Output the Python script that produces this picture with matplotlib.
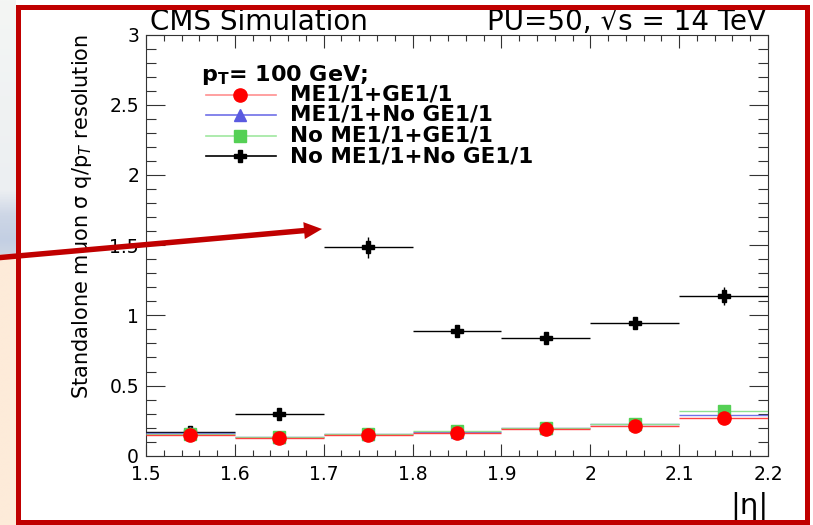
import numpy as np
import matplotlib
matplotlib.use('Agg')
import matplotlib.pyplot as plt
from matplotlib.lines import Line2D
from matplotlib.patches import Rectangle, FancyArrow
from matplotlib.transforms import Affine2D
from matplotlib.ticker import MultipleLocator

# |eta| bins (centres, half width 0.05)
eta = [1.55, 1.65, 1.75, 1.85, 1.95, 2.05, 2.15]
half_bin = 0.05

# standalone muon q/pT resolution
me11_ge11 = [0.148, 0.129, 0.146, 0.160, 0.189, 0.210, 0.267]
me11_noge11 = [0.162, 0.134, 0.155, 0.167, 0.196, 0.224, 0.290]
nome11_ge11 = [0.157, 0.136, 0.157, 0.179, 0.200, 0.229, 0.319]
nome11_noge11 = [0.172, 0.298, 1.485, 0.891, 0.837, 0.944, 1.136]
nome11_noge11_err = [0.012, 0.012, 0.075, 0.015, 0.02, 0.022, 0.065]
small_err = [0.005] * 7

labels = ['ME1/1+GE1/1', 'ME1/1+No GE1/1', 'No ME1/1+GE1/1', 'No ME1/1+No GE1/1']

W, H = 813, 525
fig = plt.figure(figsize=(W / 100, H / 100), dpi=100)
fig.patch.set_facecolor('white')
# image pixel coordinates (y down) -> figure
pix = Affine2D().scale(1 / W, -1 / H).translate(0, 1) + fig.transFigure

# faded slide background at the left edge
strip = fig.add_axes([0, 0, 15 / W, 1])
strip.axis('off')
rows = np.linspace(0, H, 200)
stops_y = [0, 190, 215, 240, 254, 256, H]
stops_c = np.array([[244, 246, 244], [236, 239, 242], [205, 214, 230], [195, 207, 227],
                    [205, 214, 228], [253, 235, 217], [253, 235, 217]]) / 255
grad = np.stack([np.interp(rows, stops_y, stops_c[:, k]) for k in range(3)], axis=-1)
strip.imshow(grad[:, None, :], aspect='auto', extent=[0, 1, 0, 1])

ax = fig.add_axes([146 / W, (H - 455.8) / H, 622 / W, 421.3 / H])
ax.set_xlim(1.5, 2.2)
ax.set_ylim(0, 3)

ax.errorbar(eta, nome11_noge11, xerr=half_bin, yerr=nome11_noge11_err, fmt='P',
            color='black', ms=9, lw=1.0, capsize=0, zorder=3)
ax.errorbar(eta, me11_noge11, xerr=half_bin, yerr=small_err, fmt='^',
            color='#5a5ae0', ecolor='#7070e8', ms=8, lw=1.0, capsize=0, zorder=4)
ax.errorbar(eta, nome11_ge11, xerr=half_bin, yerr=small_err, fmt='s',
            color='#55d055', ecolor='#8fe08f', ms=8.5, lw=1.0, capsize=0, zorder=5)
ax.errorbar(eta, me11_ge11, xerr=half_bin, yerr=small_err, fmt='o',
            color='#ff0000', ecolor='#ff4040', ms=9.5, lw=1.0, capsize=0, zorder=6)

ax.xaxis.set_major_locator(MultipleLocator(0.1))
ax.xaxis.set_minor_locator(MultipleLocator(0.02))
ax.yaxis.set_major_locator(MultipleLocator(0.5))
ax.yaxis.set_minor_locator(MultipleLocator(0.1))
ax.xaxis.set_major_formatter(matplotlib.ticker.FuncFormatter(lambda v, p: f'{v:g}'))
ax.yaxis.set_major_formatter(matplotlib.ticker.FuncFormatter(lambda v, p: f'{v:g}'))
ax.tick_params(which='both', direction='in', top=True, right=True, width=0.8,
               color='#333333', labelsize=13.5)
ax.tick_params(axis='x', which='major', length=9, pad=6.5)
ax.tick_params(axis='x', which='minor', length=4.5)
ax.tick_params(axis='y', which='major', length=13.5, pad=5)
ax.tick_params(axis='y', which='minor', length=7)
for s in ax.spines.values():
    s.set_linewidth(0.8)
    s.set_color('#333333')

# titles and axis labels
fig.text(150, 30, 'CMS Simulation', transform=pix, fontsize=20, va='baseline', ha='left')
fig.text(766, 30, 'PU=50, √s = 14 TeV', transform=pix, fontsize=20,
         va='baseline', ha='right')
fig.text(82, 217, r'Standalone muon σ q/p$_{T}$ resolution', transform=pix,
         fontsize=15, rotation=90, ha='center', va='center')
fig.text(768, 514, '|η|', transform=pix, fontsize=21, ha='right', va='baseline')

# legend
fig.text(201, 75, r'$\mathbf{p}_{\mathbf{T}}$= 100 GeV;', transform=pix, fontsize=16,
         fontweight='bold', ha='left', va='center')
leg_styles = [('o', '#ff0000', '#ff9090', 9.5), ('^', '#5a5ae0', '#7070e8', 8),
              ('s', '#55d055', '#a0e8a0', 8.5), ('P', 'black', 'black', 9)]
for i, (lab, (mk, mc, lc, ms)) in enumerate(zip(labels, leg_styles)):
    y = 94.5 + 20.5 * i
    fig.add_artist(Line2D([206, 276], [y, y], transform=pix, color=lc, lw=1.2))
    fig.add_artist(Line2D([240], [y], transform=pix, marker=mk, color=mc, ms=ms, lw=0))
    fig.text(290, y, lab, transform=pix, fontsize=15.5, fontweight='bold',
             ha='left', va='center')

# red frame and arrow from the slide
fig.add_artist(Rectangle((17.5, 6.5), 789, 515.5, transform=pix, fill=False,
                         edgecolor='#c00000', lw=3.6, zorder=10))
fig.add_artist(FancyArrow(-5, 258, 327, -29, width=5.5, head_width=17, head_length=18,
                          length_includes_head=True, transform=pix, color='#c00000',
                          lw=0, zorder=11))

fig.savefig('out.png', dpi=100)
